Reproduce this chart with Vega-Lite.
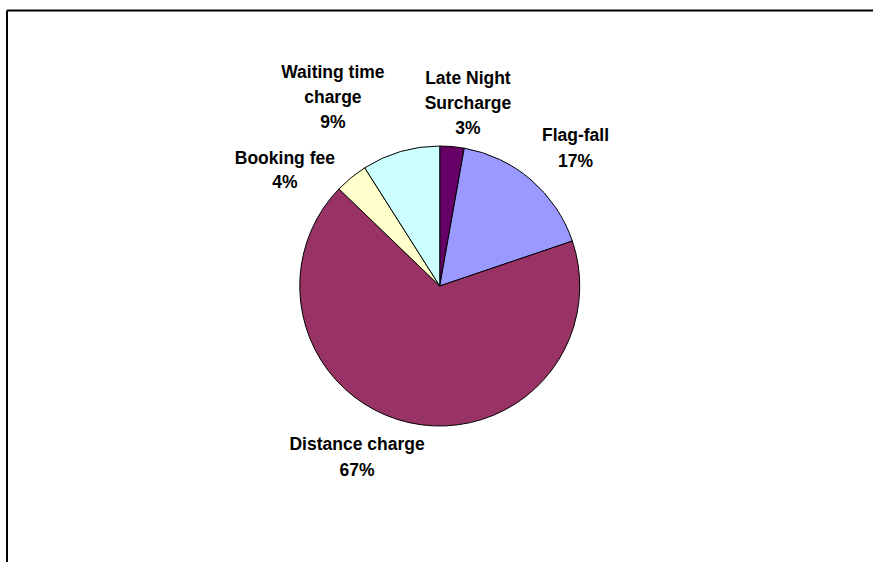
{
  "$schema": "https://vega.github.io/schema/vega-lite/v6.json",
  "width": 866.5,
  "height": 552,
  "autosize": {"type": "none"},
  "padding": {"left": 6.5, "top": 10, "right": 0, "bottom": 0},
  "background": "white",
  "view": {"stroke": null, "fill": "white"},
  "data": {
    "values": [
      {"category": "Late Night Surcharge", "value": 2.8, "label": "Late Night\nSurcharge\n3%", "order": 1},
      {"category": "Flag-fall", "value": 17.0, "label": "Flag-fall\n17%", "order": 2},
      {"category": "Distance charge", "value": 67.4, "label": "Distance charge\n67%", "order": 3},
      {"category": "Booking fee", "value": 3.8, "label": "Booking fee\n4%", "order": 4},
      {"category": "Waiting time charge", "value": 9.0, "label": "Waiting time\ncharge\n9%", "order": 5}
    ]
  },
  "layer": [
    {
      "mark": {"type": "point", "opacity": 0},
      "encoding": {
        "x": {"field": "value", "type": "quantitative", "axis": {"orient": "top", "domain": true, "domainColor": "black", "domainWidth": 2, "ticks": false, "labels": false, "grid": false, "title": null}},
        "y": {"field": "order", "type": "quantitative", "axis": {"orient": "left", "domain": true, "domainColor": "black", "domainWidth": 2, "ticks": false, "labels": false, "grid": false, "title": null}}
      }
    },
    {
      "mark": {"type": "arc", "radius": 140, "stroke": "black", "strokeWidth": 1},
      "encoding": {
        "theta": {"field": "value", "type": "quantitative", "stack": true},
        "order": {"field": "order", "type": "quantitative"},
        "color": {
          "field": "category",
          "type": "nominal",
          "scale": {
            "domain": ["Late Night Surcharge", "Flag-fall", "Distance charge", "Booking fee", "Waiting time charge"],
            "range": ["#660066", "#9999FF", "#993366", "#FFFFCC", "#CCFFFF"]
          },
          "legend": null
        }
      }
    },
    {
      "mark": {"type": "text", "radius": 150, "dx": 15, "dy": -53, "align": "center", "baseline": "alphabetic", "font": "Liberation Sans", "fontWeight": "bold", "fontSize": 17.5, "lineHeight": 25, "lineBreak": "\n", "fill": "black"},
      "encoding": {
        "theta": {"field": "value", "type": "quantitative", "stack": true},
        "order": {"field": "order", "type": "quantitative"},
        "text": {"condition": {"test": "datum.category === 'Late Night Surcharge'", "field": "label"}, "value": ""}
      }
    },
    {
      "mark": {"type": "text", "radius": 150, "dx": 38, "dy": -31, "align": "center", "baseline": "alphabetic", "font": "Liberation Sans", "fontWeight": "bold", "fontSize": 17.5, "lineHeight": 26, "lineBreak": "\n", "fill": "black"},
      "encoding": {
        "theta": {"field": "value", "type": "quantitative", "stack": true},
        "order": {"field": "order", "type": "quantitative"},
        "text": {"condition": {"test": "datum.category === 'Flag-fall'", "field": "label"}, "value": ""}
      }
    },
    {
      "mark": {"type": "text", "radius": 150, "dx": -50, "dy": 18, "align": "center", "baseline": "alphabetic", "font": "Liberation Sans", "fontWeight": "bold", "fontSize": 17.5, "lineHeight": 26, "lineBreak": "\n", "fill": "black"},
      "encoding": {
        "theta": {"field": "value", "type": "quantitative", "stack": true},
        "order": {"field": "order", "type": "quantitative"},
        "text": {"condition": {"test": "datum.category === 'Distance charge'", "field": "label"}, "value": ""}
      }
    },
    {
      "mark": {"type": "text", "radius": 150, "dx": -60, "dy": -6, "align": "center", "baseline": "alphabetic", "font": "Liberation Sans", "fontWeight": "bold", "fontSize": 17.5, "lineHeight": 24, "lineBreak": "\n", "fill": "black"},
      "encoding": {
        "theta": {"field": "value", "type": "quantitative", "stack": true},
        "order": {"field": "order", "type": "quantitative"},
        "text": {"condition": {"test": "datum.category === 'Booking fee'", "field": "label"}, "value": ""}
      }
    },
    {
      "mark": {"type": "text", "radius": 150, "dx": -65, "dy": -64, "align": "center", "baseline": "alphabetic", "font": "Liberation Sans", "fontWeight": "bold", "fontSize": 17.5, "lineHeight": 25, "lineBreak": "\n", "fill": "black"},
      "encoding": {
        "theta": {"field": "value", "type": "quantitative", "stack": true},
        "order": {"field": "order", "type": "quantitative"},
        "text": {"condition": {"test": "datum.category === 'Waiting time charge'", "field": "label"}, "value": ""}
      }
    }
  ]
}
